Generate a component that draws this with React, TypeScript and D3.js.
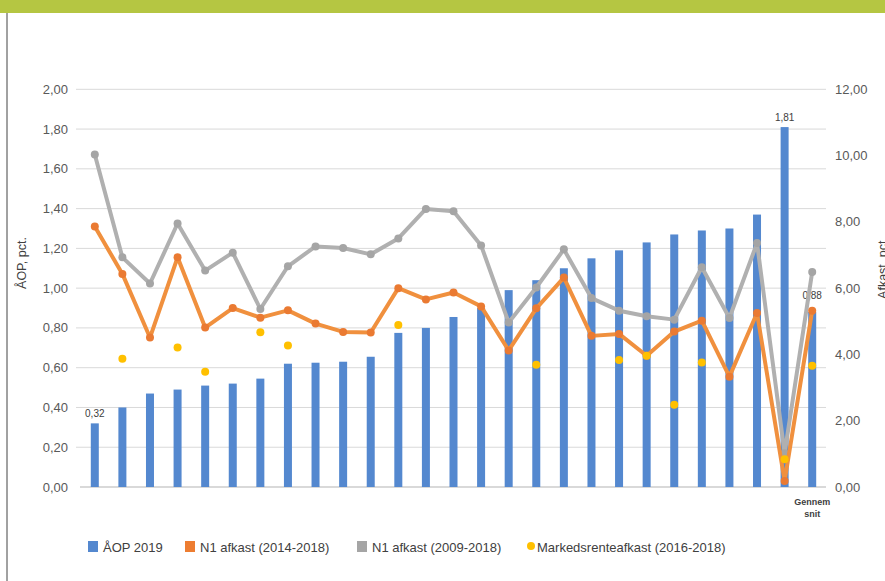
import React from "react";
import * as d3 from "d3";

const categories: string[] = Array.from({ length: 27 }, (_, i) => `c${i + 1}`);
const xLabels: string[] = ["", "", "", "", "", "", "", "", "", "", "", "", "", "", "", "", "", "", "", "", "", "", "", "", "", "", "Gennem snit"];

const aop2019: number[] = [0.32, 0.40, 0.47, 0.49, 0.51, 0.52, 0.545, 0.62, 0.625, 0.63, 0.655, 0.775, 0.80, 0.855, 0.90, 0.99, 1.04, 1.10, 1.15, 1.19, 1.23, 1.27, 1.29, 1.30, 1.37, 1.81, 0.88];
const aopLabels: (string | null)[] = ["0,32", null, null, null, null, null, null, null, null, null, null, null, null, null, null, null, null, null, null, null, null, null, null, null, null, "1,81", "0,88"];

const n1_2014: number[] = [7.86, 6.43, 4.51, 6.93, 4.81, 5.40, 5.11, 5.33, 4.93, 4.68, 4.66, 6.00, 5.66, 5.87, 5.45, 4.12, 5.39, 6.32, 4.56, 4.62, 3.96, 4.69, 5.02, 3.33, 5.25, 0.18, 5.32];
const n1_2009: number[] = [10.03, 6.93, 6.14, 7.95, 6.53, 7.07, 5.37, 6.66, 7.26, 7.21, 7.02, 7.50, 8.39, 8.32, 7.29, 4.96, 6.02, 7.17, 5.70, 5.32, 5.15, 5.05, 6.63, 5.10, 7.36, 1.02, 6.49];
const markedsrente: (number | null)[] = [null, 3.87, null, 4.21, 3.48, null, 4.67, 4.27, null, null, null, 4.89, null, null, null, null, 3.69, null, null, 3.83, 3.96, 2.48, 3.76, null, null, 0.84, 3.66];

const leftTicks: number[] = [0, 0.2, 0.4, 0.6, 0.8, 1.0, 1.2, 1.4, 1.6, 1.8, 2.0];
const rightTicks: number[] = [0, 2, 4, 6, 8, 10, 12];

const legendItems: { label: string; color: string; shape: string }[] = [
  { label: "ÅOP 2019", color: "#5488cf", shape: "rect" },
  { label: "N1 afkast (2014-2018)", color: "#ed7d31", shape: "rect" },
  { label: "N1 afkast (2009-2018)", color: "#a5a5a5", shape: "rect" },
  { label: "Markedsrenteafkast (2016-2018)", color: "#ffc000", shape: "circle" },
];

const fmt = (v: number) => v.toFixed(2).replace(".", ",");

export default function App() {
  const W = 885, H = 581;
  const x = d3.scalePoint<string>().domain(categories).range([81, 826]).padding(0.5);
  const yL = d3.scaleLinear().domain([0, 2]).range([487, 89.3]);
  const yR = d3.scaleLinear().domain([0, 12]).range([487, 89.3]);
  const line = d3.line<number>().x((_, i) => x(categories[i])!).y((d) => yR(d));
  const font = "'Liberation Sans', Arial, sans-serif";
  const legendX = [88, 185, 357, 527];

  return (
    <svg width={W} height={H} style={{ position: "absolute", left: 0, top: 0, background: "#fff" }} fontFamily={font}>
      <rect x={0} y={0} width={W} height={13} fill="#b5c642" />
      <line x1={7} x2={7} y1={13} y2={H} stroke="#444" strokeWidth={1} />

      {leftTicks.map((t) => (
        <g key={t}>
          {t > 0 && <line x1={76} x2={826} y1={yL(t)} y2={yL(t)} stroke="#d9d9d9" strokeWidth={1} />}
          <text x={68} y={yL(t) + 4.5} textAnchor="end" fontSize={13} fill="#595959">{fmt(t)}</text>
        </g>
      ))}
      {rightTicks.map((t) => (
        <text key={t} x={835} y={yR(t) + 4.5} textAnchor="start" fontSize={13} fill="#595959">{fmt(t)}</text>
      ))}
      <line x1={80} x2={826} y1={yL(0)} y2={yL(0)} stroke="#d9d9d9" strokeWidth={2} />

      <text transform={`translate(26,263) rotate(-90)`} textAnchor="middle" fontSize={12.5} fill="#404040">ÅOP, pct.</text>
      <text transform={`translate(887,268) rotate(-90)`} textAnchor="middle" fontSize={12.5} fill="#404040">Afkast, pct.</text>

      {aop2019.map((v, i) => (
        <rect key={i} x={x(categories[i])! - 4} y={yL(v)} width={8} height={yL(0) - yL(v)} fill="#5488cf" />
      ))}
      {aop2019.map((v, i) =>
        aopLabels[i] ? (
          <text key={`l${i}`} x={x(categories[i])!} y={yL(v) - (i === 26 ? 13 : 6)} textAnchor="middle" fontSize={10} fill="#404040">{aopLabels[i]}</text>
        ) : null
      )}

      <path d={line(n1_2009) || ""} fill="none" stroke="#b0b0b0" strokeWidth={4} strokeLinejoin="round" />
      {n1_2009.map((v, i) => (
        <circle key={`g${i}`} cx={x(categories[i])!} cy={yR(v)} r={4} fill="#a5a5a5" />
      ))}
      <path d={line(n1_2014) || ""} fill="none" stroke="#f0903e" strokeWidth={4} strokeLinejoin="round" />
      {n1_2014.map((v, i) => (
        <circle key={`o${i}`} cx={x(categories[i])!} cy={yR(v)} r={4} fill="#ea7a32" />
      ))}
      {markedsrente.map((v, i) =>
        v == null ? null : <circle key={`y${i}`} cx={x(categories[i])!} cy={yR(v)} r={4} fill="#ffc000" />
      )}

      {xLabels.map((l, i) =>
        l ? (
          <text key={`x${i}`} x={x(categories[i])!} y={505} textAnchor="middle" fontSize={9} fontWeight="bold" fill="#404040">
            {l.split(" ").map((p, j) => (
              <tspan key={j} x={x(categories[i])!} dy={j === 0 ? 0 : 12}>{p}</tspan>
            ))}
          </text>
        ) : null
      )}

      {legendItems.map((it, i) => (
        <g key={it.label}>
          {it.shape === "rect" ? (
            <rect x={legendX[i]} y={541} width={10} height={11} fill={it.color} />
          ) : (
            <circle cx={legendX[i] + 4} cy={546} r={4} fill={it.color} />
          )}
          <text x={legendX[i] + (it.shape === "rect" ? 15 : 10)} y={551.5} fontSize={13} fill="#404040">{it.label}</text>
        </g>
      ))}
    </svg>
  );
}
